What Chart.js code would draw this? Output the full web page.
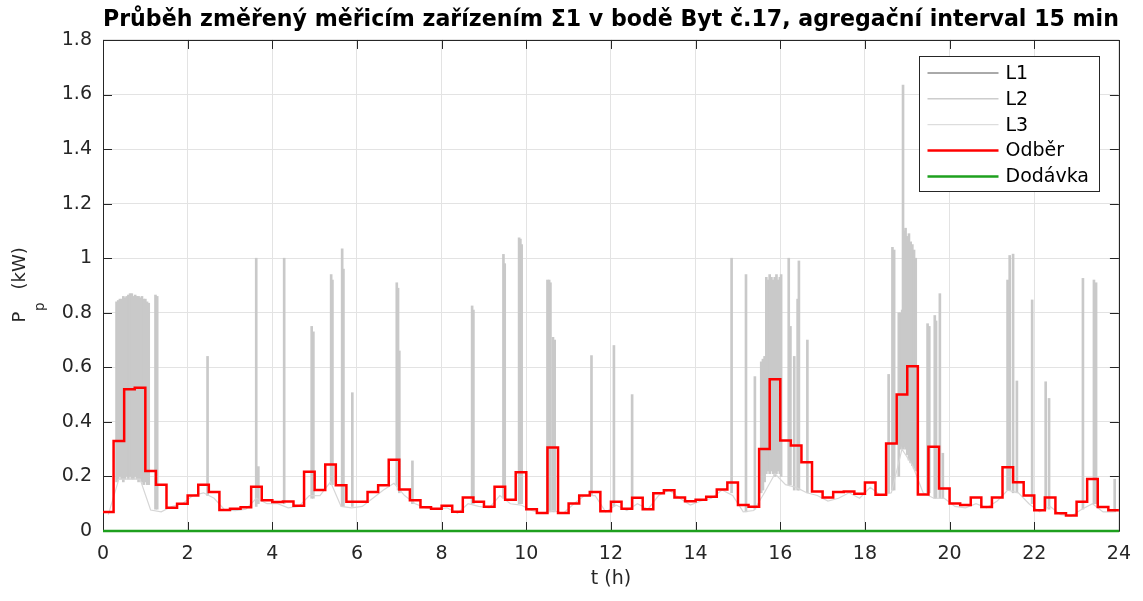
<!DOCTYPE html>
<html>
<head>
<meta charset="utf-8">
<script src="https://cdn.jsdelivr.net/npm/chart.js@4.4.1/dist/chart.umd.min.js"></script>
<style>
    html, body { margin: 0; padding: 0; background: #ffffff; }
    #chartContainer { width: 1143px; height: 601px; }
</style>
</head>
<body>
<div id="chartContainer"><canvas id="powerChart"></canvas></div>
<script>
const FONT = "'DejaVu Sans', Verdana, sans-serif";

const xTicks = [0, 2, 4, 6, 8, 10, 12, 14, 16, 18, 20, 22, 24];
const yTicks = [0, 0.2, 0.4, 0.6, 0.8, 1, 1.2, 1.4, 1.6, 1.8];
const yTickLabels = ['0', '0.2', '0.4', '0.6', '0.8', '1', '1.2', '1.4', '1.6', '1.8'];

// Odber - 15 min averages (kW), first interval starts at 0:00
const odberValues = [
    0.07, 0.33, 0.52, 0.525, 0.22, 0.17, 0.085, 0.10, 0.13, 0.17, 0.143, 0.077,
    0.082, 0.087, 0.162, 0.113, 0.106, 0.108, 0.093, 0.217, 0.15, 0.244, 0.168, 0.107,
    0.107, 0.143, 0.168, 0.261, 0.152, 0.113, 0.087, 0.082, 0.093, 0.071, 0.123, 0.107,
    0.089, 0.162, 0.115, 0.215, 0.080, 0.066, 0.306, 0.066, 0.101, 0.130, 0.143, 0.072,
    0.107, 0.082, 0.122, 0.080, 0.138, 0.149, 0.123, 0.109, 0.115, 0.126, 0.152, 0.178,
    0.095, 0.089, 0.301, 0.556, 0.332, 0.313, 0.252, 0.145, 0.123, 0.143, 0.145, 0.137,
    0.178, 0.133, 0.321, 0.50, 0.604, 0.134, 0.309, 0.156, 0.101, 0.095, 0.123, 0.088,
    0.123, 0.234, 0.179, 0.130, 0.076, 0.123, 0.065, 0.057, 0.107, 0.191, 0.088, 0.076
];

// L3 - slow base load, one reading per 15 min (middle of interval)
const l3Values = [
    0.06, 0.19, 0.19, 0.19, 0.077, 0.07, 0.09, 0.10, 0.13, 0.14, 0.12, 0.077,
    0.075, 0.08, 0.12, 0.10, 0.10, 0.085, 0.09, 0.13, 0.13, 0.18, 0.09, 0.085,
    0.09, 0.12, 0.15, 0.175, 0.13, 0.10, 0.085, 0.08, 0.085, 0.065, 0.10, 0.09,
    0.085, 0.13, 0.10, 0.095, 0.075, 0.065, 0.075, 0.065, 0.10, 0.13, 0.13, 0.07,
    0.095, 0.075, 0.10, 0.08, 0.13, 0.15, 0.12, 0.095, 0.11, 0.12, 0.15, 0.13,
    0.07, 0.075, 0.14, 0.21, 0.17, 0.16, 0.14, 0.13, 0.11, 0.12, 0.14, 0.12,
    0.16, 0.13, 0.14, 0.30, 0.24, 0.14, 0.12, 0.12, 0.09, 0.085, 0.10, 0.085,
    0.11, 0.15, 0.14, 0.10, 0.07, 0.09, 0.06, 0.055, 0.08, 0.10, 0.07, 0.07
];

// L2 - short peaks and dense switching bursts: time (h), low and high value (kW)
const l2Times = [
    0.32, 0.36, 0.40, 0.44, 0.48, 0.52, 0.56, 0.60, 0.64, 0.68, 0.72, 0.76, 0.80, 0.84, 0.88, 0.92, 0.96, 1.00, 1.04, 1.08,
    1.24, 1.28, 2.47, 3.62, 3.67, 4.28, 4.93, 4.97, 5.39, 5.42, 5.65, 5.68, 5.89,
    6.94, 6.97, 7.00, 7.31, 8.72, 8.75, 9.46, 9.49, 9.83, 9.86, 9.89,
    10.50, 10.54, 10.57, 10.63, 10.67, 11.54, 12.07, 12.50, 14.85, 15.19, 15.40,
    15.55, 15.59, 15.63, 15.67, 15.71, 15.75, 15.79, 15.83, 15.87, 15.91, 15.95, 15.99, 16.02,
    16.20, 16.24, 16.33, 16.41, 16.44, 16.64, 18.56, 18.65, 18.69, 18.80,
    18.84, 18.88, 18.90, 18.92, 18.96, 19.00, 19.04, 19.08, 19.12, 19.16, 19.20,
    19.48, 19.52, 19.65, 19.68, 19.77, 19.84, 21.37, 21.42, 21.50, 21.59, 21.95,
    22.27, 22.35, 23.15, 23.41, 23.46, 23.90
];
const l2Low = [
    0.18, 0.19, 0.20, 0.19, 0.18, 0.19, 0.20, 0.19, 0.20, 0.19, 0.19, 0.20, 0.19, 0.18, 0.19, 0.18, 0.17, 0.18, 0.17, 0.17,
    0.08, 0.08, 0.13, 0.09, 0.10, 0.10, 0.12, 0.12, 0.17, 0.17, 0.09, 0.09, 0.09,
    0.17, 0.15, 0.14, 0.10, 0.10, 0.10, 0.12, 0.12, 0.10, 0.10, 0.10,
    0.07, 0.07, 0.07, 0.07, 0.07, 0.13, 0.09, 0.08, 0.14, 0.07, 0.08,
    0.14, 0.15, 0.18, 0.21, 0.22, 0.21, 0.22, 0.21, 0.20, 0.21, 0.22, 0.21, 0.20,
    0.17, 0.17, 0.15, 0.15, 0.15, 0.14, 0.14, 0.15, 0.15, 0.20,
    0.30, 0.31, 0.30, 0.31, 0.30, 0.28, 0.26, 0.25, 0.24, 0.23, 0.22,
    0.14, 0.14, 0.12, 0.12, 0.12, 0.12, 0.15, 0.15, 0.14, 0.14, 0.10,
    0.08, 0.08, 0.08, 0.10, 0.10, 0.07
];
const l2High = [
    0.84, 0.845, 0.85, 0.85, 0.86, 0.855, 0.86, 0.865, 0.87, 0.87, 0.86, 0.865, 0.86, 0.86, 0.855, 0.86, 0.85, 0.85, 0.84, 0.835,
    0.865, 0.86, 0.64, 1.0, 0.236, 1.0, 0.75, 0.73, 0.94, 0.92, 1.034, 0.96, 0.507,
    0.91, 0.89, 0.66, 0.257, 0.825, 0.81, 1.014, 0.98, 1.075, 1.07, 1.05,
    0.92, 0.92, 0.91, 0.71, 0.70, 0.643, 0.68, 0.50, 1.0, 0.94, 0.566,
    0.62, 0.63, 0.64, 0.93, 0.92, 0.94, 0.93, 0.92, 0.93, 0.94, 0.92, 0.93, 0.94,
    1.0, 0.75, 0.64, 0.85, 0.99, 0.70, 0.574, 1.04, 1.03, 0.80,
    0.80, 0.81, 1.635, 1.10, 1.11, 1.08, 1.09, 1.06, 1.05, 1.03, 1.00,
    0.76, 0.75, 0.79, 0.77, 0.87, 0.285, 0.92, 1.01, 1.015, 0.55, 0.847,
    0.547, 0.486, 0.926, 0.92, 0.91, 0.19
];

// L1 and Dodavka stay at zero for the whole day
const l1Times = [0, 24];
const l1Values = [0, 0];
const dodavkaTimes = [0, 24];
const dodavkaValues = [0, 0];

const odberData = odberValues.map((v, i) => ({ x: i * 0.25, y: v }));
odberData.push({ x: 24, y: odberValues[odberValues.length - 1] });
const l3Data = l3Values.map((v, i) => ({ x: i * 0.25 + 0.125, y: v }));
const l2Data = l2Times.map((t, i) => ({ x: t, y: [l2Low[i], l2High[i]] }));
const l1Data = l1Times.map((t, i) => ({ x: t, y: l1Values[i] }));
const dodavkaData = dodavkaTimes.map((t, i) => ({ x: t, y: dodavkaValues[i] }));

// box around the axes with inward ticks (MATLAB look)
const axesFrame = {
    id: 'axesFrame',
    beforeDatasetsDraw(chart) {
        const { ctx, chartArea: a, scales: { x, y } } = chart;
        ctx.save();
        ctx.strokeStyle = '#262626';
        ctx.lineWidth = 1;
        ctx.beginPath();
        xTicks.forEach(v => {
            const px = Math.round(x.getPixelForValue(v)) + 0.5;
            ctx.moveTo(px, a.bottom); ctx.lineTo(px, a.bottom - 9);
            ctx.moveTo(px, a.top); ctx.lineTo(px, a.top + 9);
        });
        yTicks.forEach(v => {
            const py = Math.round(y.getPixelForValue(v)) + 0.5;
            ctx.moveTo(a.left, py); ctx.lineTo(a.left + 9, py);
            ctx.moveTo(a.right, py); ctx.lineTo(a.right - 9, py);
        });
        ctx.rect(Math.round(a.left) + 0.5, Math.round(a.top) + 0.5,
            Math.round(a.right - a.left), Math.round(a.bottom - a.top));
        ctx.stroke();
        ctx.restore();
    }
};

// y axis label with a real subscript: P_p (kW)
const yAxisLabel = {
    id: 'yAxisLabel',
    afterDraw(chart) {
        const { ctx, chartArea: a } = chart;
        ctx.save();
        ctx.translate(25, (a.top + a.bottom) / 2 + 37);
        ctx.rotate(-Math.PI / 2);
        ctx.fillStyle = '#262626';
        ctx.textBaseline = 'alphabetic';
        ctx.font = '18px ' + FONT;
        ctx.fillText('P', 0, 0);
        ctx.font = '13.5px ' + FONT;
        ctx.fillText('p', 11.5, 19);
        ctx.font = '18px ' + FONT;
        ctx.fillText('(kW)', 33, 0);
        ctx.restore();
    }
};

// legend box in the top right corner of the axes
const boxLegend = {
    id: 'boxLegend',
    afterDraw(chart) {
        const { ctx, chartArea: a } = chart;
        const left = Math.round(a.right - 200) + 0.5;
        const top = Math.round(a.top + 16) + 0.5;
        ctx.save();
        ctx.fillStyle = '#ffffff';
        ctx.fillRect(left, top, 180, 135);
        ctx.strokeStyle = '#262626';
        ctx.lineWidth = 1;
        ctx.strokeRect(left, top, 180, 135);
        ctx.font = '19px ' + FONT;
        ctx.textBaseline = 'middle';
        chart.data.datasets.forEach((ds, i) => {
            const yy = top + 16.5 + i * 25.85;
            ctx.strokeStyle = ds.borderColor;
            ctx.lineWidth = ds.legendWidth;
            ctx.beginPath();
            ctx.moveTo(left + 8, yy);
            ctx.lineTo(left + 79, yy);
            ctx.stroke();
            ctx.fillStyle = '#000000';
            ctx.fillText(ds.label, left + 86, yy + 1);
        });
        ctx.restore();
    }
};

new Chart(document.getElementById('powerChart').getContext('2d'), {
    type: 'line',
    data: {
        datasets: [
            {
                label: 'L1',
                data: l1Data,
                borderColor: '#555555',
                borderWidth: 1,
                legendWidth: 1,
                pointRadius: 0,
                order: 4
            },
            {
                type: 'bar',
                label: 'L2',
                data: l2Data,
                backgroundColor: '#c9c9c9',
                borderColor: '#b3b3b3',
                borderWidth: 0,
                legendWidth: 1,
                barThickness: 2,
                order: 3
            },
            {
                label: 'L3',
                data: l3Data,
                borderColor: '#d6d6d6',
                borderWidth: 1.2,
                legendWidth: 1,
                pointRadius: 0,
                order: 2
            },
            {
                label: 'Odběr',
                data: odberData,
                borderColor: '#ff0000',
                borderWidth: 2.5,
                legendWidth: 2.5,
                stepped: 'before',
                pointRadius: 0,
                order: 1
            },
            {
                label: 'Dodávka',
                data: dodavkaData,
                borderColor: '#1ea01e',
                borderWidth: 2.5,
                legendWidth: 2.5,
                pointRadius: 0,
                clip: 4,
                order: 0
            }
        ]
    },
    options: {
        responsive: true,
        maintainAspectRatio: false,
        animation: false,
        events: [],
        layout: {
            padding: { left: 0, right: 23, top: 0, bottom: 0 }
        },
        plugins: {
            legend: { display: false },
            tooltip: { enabled: false },
            title: {
                display: true,
                fullSize: false,
                text: 'Průběh změřený měřicím zařízením Σ1 v bodě Byt č.17, agregační interval 15 min',
                color: '#000000',
                font: { family: FONT, size: 22.4, weight: 'bold' },
                padding: { top: 7, bottom: 6.1 }
            }
        },
        scales: {
            x: {
                type: 'linear',
                min: 0,
                max: 24,
                offset: false,
                afterBuildTicks: s => { s.ticks = xTicks.map(v => ({ value: v })); },
                afterFit: s => { s.height = 70; },
                grid: { color: '#e3e3e3', drawTicks: false, offset: false },
                border: { display: false },
                ticks: {
                    color: '#262626',
                    font: { family: FONT, size: 19 },
                    padding: 12,
                    maxRotation: 0,
                    autoSkip: false
                },
                title: {
                    display: true,
                    text: 't (h)',
                    color: '#262626',
                    font: { family: FONT, size: 19 },
                    padding: { top: 0, bottom: 11 }
                }
            },
            y: {
                min: 0,
                max: 1.8,
                afterBuildTicks: s => { s.ticks = yTicks.map(v => ({ value: v })); },
                afterFit: s => { s.width = 103; },
                grid: { color: '#e3e3e3', drawTicks: false },
                border: { display: false },
                ticks: {
                    color: '#262626',
                    font: { family: FONT, size: 19 },
                    padding: 11,
                    autoSkip: false,
                    callback: (v, i) => yTickLabels[i]
                }
            }
        }
    },
    plugins: [axesFrame, yAxisLabel, boxLegend]
});
</script>
</body>
</html>
